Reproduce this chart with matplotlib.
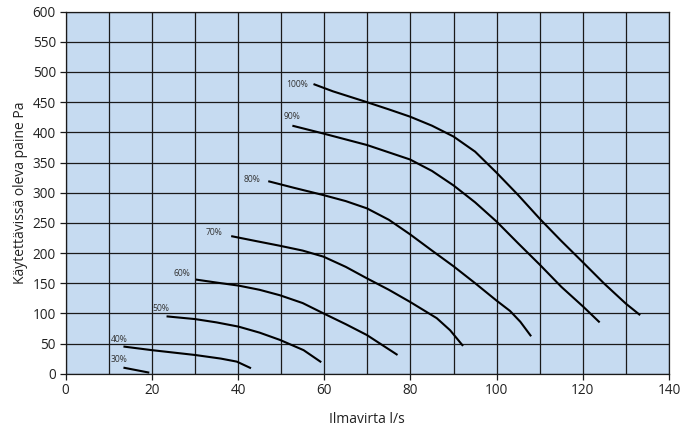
import matplotlib.pyplot as plt
from matplotlib.ticker import MultipleLocator

plt.rcParams['font.family'] = ['Open Sans', 'DejaVu Sans']

# fan curves: airflow l/s, pressure Pa
x100 = [57.5, 62, 69.9, 75, 79.9, 85, 90, 95, 100, 105, 110.1, 115, 120.1, 125, 130, 133.3]
y100 = [480, 468, 450, 438, 426, 411, 393, 368, 333, 296, 256, 220, 184, 149, 116, 97]
x90 = [52.6, 59.8, 69.9, 79.9, 85, 90, 95, 100, 105, 110.1, 115, 120.1, 123.9]
y90 = [411, 398, 379, 355, 336, 312, 284, 252, 216, 180, 144, 111, 85]
x80 = [47, 53, 59.8, 65, 69.9, 75, 79.9, 85, 90, 95, 100, 103.1, 105.5, 108]
y80 = [319, 308, 296, 286, 274, 255, 231, 204, 178, 150, 121, 104, 86, 62]
x70 = [38.4, 44, 49.7, 55, 59.8, 65, 69.9, 75, 79.9, 86.1, 89.2, 92.2]
y70 = [228, 220, 212, 204, 194, 177, 158, 139, 119, 92, 72, 46]
x60 = [30.2, 35, 40.1, 45, 49.7, 55, 59.8, 65, 69.9, 77]
y60 = [156, 151, 146, 139, 130, 117, 100, 82, 64, 31]
x50 = [23.4, 30, 35, 40.1, 45, 49.7, 55.2, 59.3]
y50 = [95, 90.5, 85, 78, 68, 56, 39, 19]
x40 = [13.4, 20, 30, 36, 39.7, 43]
y40 = [45, 39, 31, 25, 20, 9]
x30 = [13.4, 19.4]
y30 = [10, 1.7]

curves = [(x100, y100), (x90, y90), (x80, y80), (x70, y70),
          (x60, y60), (x50, y50), (x40, y40), (x30, y30)]

labels = ['100%', '90%', '80%', '70%', '60%', '50%', '40%', '30%']
label_x = [56.3, 54.5, 45.1, 36.4, 28.9, 24.0, 14.4, 14.2]
label_y = [480, 426, 322, 234, 166, 108, 57, 23]

fig = plt.figure(figsize=(6.93, 4.32), dpi=100)
ax = fig.add_axes([0.0948, 0.135, 0.8706, 0.838])
ax.set_facecolor('#c6dbf1')

for xs, ys in curves:
    ax.plot(xs, ys, color='black', lw=1.5, solid_capstyle='butt', solid_joinstyle='round')

for t, lx, ly in zip(labels, label_x, label_y):
    ax.text(lx, ly, t, ha='right', va='center', fontsize=6.2, color='#333333')

ax.set_xlim(0, 140)
ax.set_ylim(0, 600)
ax.xaxis.set_major_locator(MultipleLocator(20))
ax.xaxis.set_minor_locator(MultipleLocator(10))
ax.yaxis.set_major_locator(MultipleLocator(50))

ax.grid(which='both', color='#1a1a1a', lw=0.9)
ax.set_axisbelow(True)
ax.tick_params(axis='both', which='major', length=4, width=0.9, color='#1a1a1a',
               labelsize=9.8, labelcolor='#222222', pad=3)
ax.tick_params(axis='x', which='minor', length=0)
for s in ax.spines.values():
    s.set_color('#1a1a1a')
    s.set_linewidth(0.9)

ax.set_xlabel('Ilmavirta l/s', fontsize=10, color='#222222', labelpad=10)
ax.set_ylabel('Käytettävissä oleva paine Pa', fontsize=10, color='#222222', labelpad=3)

fig.savefig('out.png', dpi=100)
